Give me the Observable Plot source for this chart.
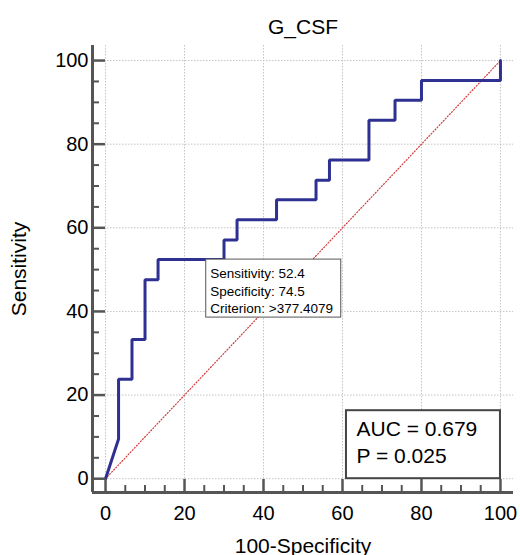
<!DOCTYPE html>
<html>
<head>
<meta charset="utf-8">
<script src="https://cdn.jsdelivr.net/npm/d3@7"></script>
<script src="https://cdn.jsdelivr.net/npm/@observablehq/plot@0.6"></script>
<style>
  html, body { margin: 0; padding: 0; background: #fff; }
</style>
</head>
<body>
<div id="chart"></div>
<script>
// ---- data ----
const title = "G_CSF";
const xLabel = "100-Specificity";
const yLabel = "Sensitivity";
// ROC curve vertices (100-Specificity, Sensitivity)
const fpr = [0, 3.3, 3.3, 6.7, 6.7, 10, 10, 13.3, 13.3, 30, 30, 33.3, 33.3, 43.3, 43.3, 53.3, 53.3, 56.7, 56.7, 66.7, 66.7, 73.3, 73.3, 80, 80, 100, 100];
const tpr = [0, 9.5, 23.8, 23.8, 33.3, 33.3, 47.6, 47.6, 52.4, 52.4, 57.1, 57.1, 61.9, 61.9, 66.7, 66.7, 71.4, 71.4, 76.2, 76.2, 85.7, 85.7, 90.5, 90.5, 95.2, 95.2, 100];
const diagX = [0, 100];
const diagY = [0, 100];
const majorTicks = [0, 20, 40, 60, 80, 100];
const minorTicks = [5, 10, 15, 25, 30, 35, 45, 50, 55, 65, 70, 75, 85, 90, 95];
// criterion point
const critSens = 52.4;
const critSpec = 74.5;
const critLabel = ["Sensitivity: 52.4", "Specificity: 74.5", "Criterion: >377.4079"];
const aucLabel = ["AUC = 0.679", "P = 0.025"];

// ---- layout ----
const xBase = -3.3, yBase = -3.3;
const pxX = 421 / 106.6, pxY = 447 / 106.9;
const font = "'Liberation Sans', Arial, Helvetica, sans-serif";
const axisColor = "#555";

const curve = fpr.map((x, i) => ({x, y: tpr[i]}));
const diag = diagX.map((x, i) => ({x, y: diagY[i]}));

const chart = Plot.plot({
  width: 520,
  height: 555,
  marginLeft: 92,
  marginRight: 7,
  marginTop: 45,
  marginBottom: 63,
  x: {domain: [xBase, 103.3], axis: null},
  y: {domain: [yBase, 103.6], axis: null},
  style: {fontFamily: font, background: "white", color: "black"},
  marks: [
    // grid
    Plot.ruleX(majorTicks, {stroke: "#c4c4c4", strokeWidth: 1, strokeDasharray: "1.5,1.5"}),
    Plot.ruleY(majorTicks, {stroke: "#c4c4c4", strokeWidth: 1, strokeDasharray: "1.5,1.5"}),
    // diagonal
    Plot.line(diag, {x: "x", y: "y", stroke: "#d03a3a", strokeWidth: 1.2, strokeDasharray: "1,2"}),
    // ROC curve
    Plot.line(curve, {x: "x", y: "y", stroke: "#2e3192", strokeWidth: 3, strokeLinejoin: "miter"}),
    // criterion callout
    Plot.rect([0], {x1: () => 100 - critSpec, x2: () => 100 - critSpec, y1: () => critSens, y2: () => critSens,
      insetRight: -135, insetBottom: -58, fill: "white", stroke: "#555", strokeWidth: 1}),
    Plot.text([critLabel.join("\n")], {x: () => 100 - critSpec, y: () => critSens, dx: 4, dy: 5.5,
      text: d => d, textAnchor: "start", lineAnchor: "top", lineHeight: 1.32, fontSize: 13.5, fill: "black"}),
    // AUC box
    Plot.rect([0], {x1: () => 100, x2: () => 100, y1: () => 0, y2: () => 0,
      insetLeft: -154, insetTop: -68, fill: "white", stroke: "#444", strokeWidth: 2}),
    Plot.text([aucLabel.join("\n")], {x: () => 100, y: () => 0, dx: -144, dy: -15.3,
      text: d => d, textAnchor: "start", lineAnchor: "bottom", lineHeight: 1.32, fontSize: 21, fill: "black"}),
    // axis lines
    Plot.ruleX([xBase], {stroke: axisColor, strokeWidth: 3}),
    Plot.ruleY([yBase], {stroke: axisColor, strokeWidth: 3}),
    // ticks
    Plot.ruleX(majorTicks, {y1: yBase, y2: yBase + 13 / pxY, stroke: axisColor, strokeWidth: 2.5}),
    Plot.ruleX(minorTicks, {y1: yBase, y2: yBase + 7 / pxY, stroke: axisColor, strokeWidth: 2}),
    Plot.ruleY(majorTicks, {x1: xBase, x2: xBase + 13 / pxX, stroke: axisColor, strokeWidth: 2.5}),
    Plot.ruleY(minorTicks, {x1: xBase, x2: xBase + 7 / pxX, stroke: axisColor, strokeWidth: 2}),
    // tick labels
    Plot.text(majorTicks, {x: d => d, frameAnchor: "bottom", dy: 13, lineAnchor: "top", text: d => String(d), fontSize: 20, fill: "black"}),
    Plot.text(majorTicks, {y: d => d, frameAnchor: "left", dx: -4, textAnchor: "end", text: d => String(d), fontSize: 20, fill: "black"}),
    // titles
    Plot.text([title], {frameAnchor: "top", dy: -12, lineAnchor: "bottom", fontSize: 21, fill: "black"}),
    Plot.text([xLabel], {frameAnchor: "bottom", dy: 60, lineAnchor: "bottom", fontSize: 21, fill: "black"}),
    Plot.text([yLabel], {frameAnchor: "left", dx: -67, rotate: -90, textAnchor: "middle", lineAnchor: "bottom", fontSize: 21, fill: "black"})
  ]
});
document.getElementById("chart").appendChild(chart);
</script>
</body>
</html>
